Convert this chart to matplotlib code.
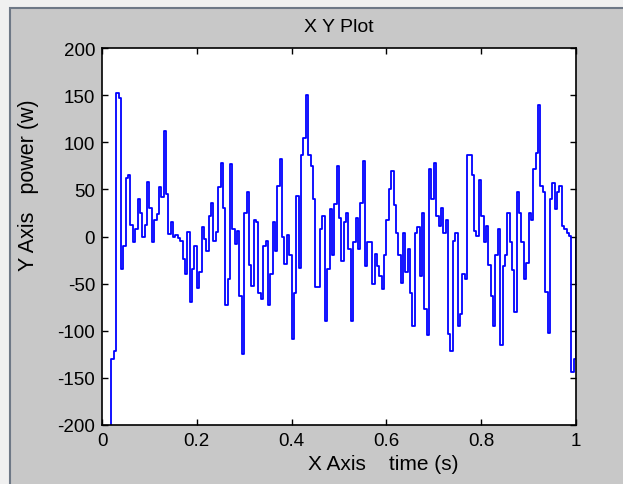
import numpy as np
import matplotlib
matplotlib.use("Agg")
import matplotlib.pyplot as plt
from matplotlib.patches import Rectangle

plt.rcParams['font.family'] = ['Liberation Sans', 'DejaVu Sans']
plt.rcParams['axes.unicode_minus'] = False

# sample period of the logged signal (s)
dt = 0.005

# power (w), one value per sample
power = [
    -230, -230, -230, -230, -130, -121, 152, 147, -35, -10,
    62, 65, 12, -6, 8, 40, 25, 0, 12, 58,
    30, -6, 18, 24, 52, 42, 112, 45, 3, 15,
    0, 2, -2, -5, -24, -40, 5, -70, -35, -10,
    -55, -38, 10, -3, -15, 22, 36, -5, 5, 52,
    78, 30, -73, -45, 77, 8, -8, 6, -63, -125,
    25, 47, -30, -52, 18, 15, -60, -66, -10, -5,
    -73, -40, 15, -15, 54, 82, 0, -29, 2, -20,
    -109, -60, 43, -33, 86, 105, 150, 86, 75, 40,
    -54, -54, 8, 22, -90, -35, 29, -20, 34, 75,
    20, -26, 15, 25, -13, -90, -6, 20, -13, 36,
    80, -31, -6, -6, -50, -19, -31, -42, -56, -20,
    18, 50, 70, 33, 4, -20, -49, 4, -38, -13,
    -60, -95, 4, 10, -42, 25, -77, -105, 72, 40,
    78, 22, 11, 30, 4, 18, -103, -121, -5, 4,
    -95, -82, -40, -45, 86, 86, 65, 6, 1, 60,
    22, -6, 11, -30, -63, -95, -20, 8, -115, -31,
    -20, 25, -6, -36, -80, 47, 25, -6, -45, -28,
    25, 18, 72, 89, 139, 54, 47, -59, -102, 40,
    57, 29, 47, 54, 11, 8, 4, 1, -144, -130,
    -3,
]
time = np.arange(len(power)) * dt

xticks = [0, 0.2, 0.4, 0.6, 0.8, 1]
xticklabels = ['0', '0.2', '0.4', '0.6', '0.8', '1']
yticks = [-200, -150, -100, -50, 0, 50, 100, 150, 200]

fig = plt.figure(figsize=(6.23, 4.85), dpi=100, facecolor='#f0f0f0')
fig.patches.append(Rectangle((10 / 623, -0.1), 1.2, 1 - 9 / 485 + 0.1,
                             transform=fig.transFigure, facecolor='#c8c8c8',
                             edgecolor='#6e7886', linewidth=1.5, zorder=-10))

ax = fig.add_axes([102 / 623, 59 / 485, 474 / 623, 377 / 485])
ax.set_zorder(5)
ax.plot(time, power, color='#0000ff', linewidth=1.3, drawstyle='steps-post')
ax.set_xlim(0, 1)
ax.set_ylim(-200, 200)
ax.set_xticks(xticks)
ax.set_xticklabels(xticklabels)
ax.set_yticks(yticks)
ax.tick_params(direction='in', top=True, right=True, length=4, width=1,
               labelsize=13.5, pad=5)
for s in ax.spines.values():
    s.set_linewidth(1.2)

ax.set_title('X Y Plot', fontsize=14, pad=12)
ax.set_xlabel('X Axis    time (s)', fontsize=15)
ax.xaxis.set_label_coords(0.593, -0.078)
ax.set_ylabel('Y Axis   power (w)', fontsize=15.5)
ax.yaxis.set_label_coords(-0.133, 0.64)

fig.savefig('out.png', dpi=100, facecolor=fig.get_facecolor())
